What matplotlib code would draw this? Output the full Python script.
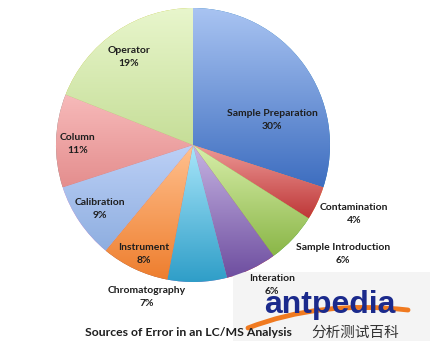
import numpy as np
import matplotlib.pyplot as plt
from matplotlib.colors import to_rgb
from matplotlib.patches import Rectangle, PathPatch
from matplotlib.path import Path

# =====================
# 1. Data
# =====================
categories = ["Sample Preparation", "Contamination", "Sample Introduction", "Interation",
              "Chromatography", "Instrument", "Calibration", "Column", "Operator"]
shares = [30, 4, 6, 6, 7, 8, 9, 11, 19]
title = "Sources of Error in an LC/MS Analysis"

# gradient colours per slice (top, bottom)
top_colors = ["#A9C4F2", "#EE9A98", "#D8EEAA", "#C6B4E2", "#A8E6FA", "#FFC08E", "#BCD0F6", "#F7BABA", "#E8F6CC"]
bottom_colors = ["#3E6EC0", "#BE3838", "#8AB647", "#6E4EA0", "#2F9EC8", "#EE7E2E", "#8EAEE0", "#E48E8E", "#C6DE98"]

# label centres in pixel coords (x, y from top)
label_pos = [(272, 120), (354, 214), (343, 254), (272, 285), (147, 297),
             (144, 254), (100, 209), (78, 144), (129, 57)]

W, H = 430, 341

# =====================
# 2. Figure
# =====================
fig = plt.figure(figsize=(W / 100, H / 100), dpi=100)
ax = fig.add_axes([0, 0, 1, 1])

wedges, _ = ax.pie(shares, center=(193, H - 145), radius=137, startangle=90,
                   counterclock=False, wedgeprops=dict(linewidth=0), frame=True)

# vertical gradient fill inside every wedge
for w, c1, c2 in zip(wedges, top_colors, bottom_colors):
    ext = w.get_path().get_extents()
    t = np.linspace(0, 1, 100)[:, None]
    grad = (1 - t) * np.array(to_rgb(c2)) + t * np.array(to_rgb(c1))
    im = ax.imshow(grad[:, None, :], extent=(ext.x0, ext.x1, ext.y0, ext.y1),
                   origin="lower", aspect="auto", zorder=2, interpolation="bilinear")
    im.set_clip_path(w)

ax.set_xlim(0, W)
ax.set_ylim(0, H)
ax.axis("off")

font = ["Lato", "DejaVu Sans"]
for name, val, (px, py) in zip(categories, shares, label_pos):
    ax.text(px, H - py, f"{name}\n{val}%", ha="center", va="center", fontsize=7.5,
            fontweight="bold", color="#1e1e1e", family=font, linespacing=1.5, zorder=5)

# watermark
ax.add_patch(Rectangle((233, 0), W - 233, H - 272, facecolor="#F4F4F4", edgecolor="none", zorder=1))
swoosh = Path([(248, H - 328), (320, H - 300), (408, H - 310)],
              [Path.MOVETO, Path.CURVE3, Path.CURVE3])
ax.add_patch(PathPatch(swoosh, facecolor="none", edgecolor="#F07A20", linewidth=3.5,
                       capstyle="round", zorder=3))
ax.text(330, H - 305, "antpedia", ha="center", va="center", fontsize=23, fontweight="bold",
        color="#1B2A8C", family=["Liberation Sans", "DejaVu Sans"], zorder=4)
ax.text(355, H - 333, "分析测试百科", ha="center", va="center", fontsize=10.5,
        color="#333333", family=["Noto Sans CJK SC", "DejaVu Sans"], zorder=4)

ax.text(188, H - 332, title, ha="center", va="center", fontsize=8.8, fontweight="bold",
        color="#1e1e1e", family=font, zorder=6)

fig.savefig("out.png", dpi=100)
